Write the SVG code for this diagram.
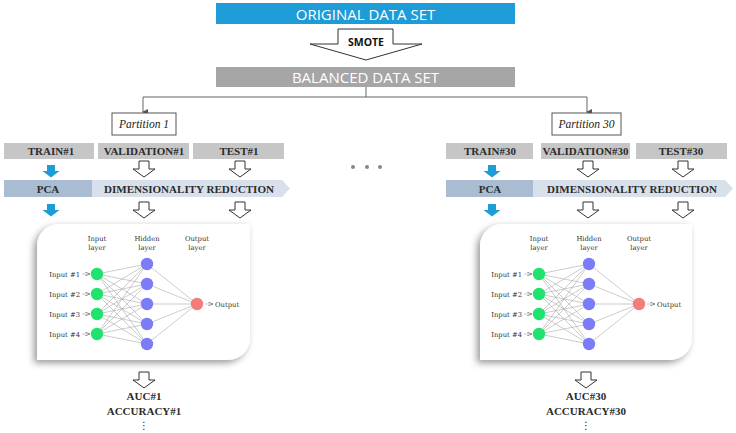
<svg xmlns="http://www.w3.org/2000/svg" width="736" height="433" viewBox="0 0 736 433">
<style>
.bar{font-family:"Open Sans","Liberation Sans",sans-serif;font-size:15px;fill:#fff;text-anchor:middle}
.lbl{font-family:"Liberation Serif","Times New Roman",serif;font-weight:bold;font-size:11px;fill:#2b2b2b;text-anchor:middle}
.part{font-family:"Liberation Serif","Times New Roman",serif;font-style:italic;font-size:11.5px;fill:#222;text-anchor:middle}
.nn{font-family:"DejaVu Serif","Liberation Serif",serif;font-size:6.8px;fill:#333}
.nnc{text-anchor:middle}
.gbox{fill:#C6C6C6}
.oarrow{fill:#fff;stroke:#333;stroke-width:1}
.barrow{fill:#1E9CD7}
.edge{stroke:#aaa;stroke-width:0.6;fill:none}
.in{fill:#1FE36E}
.hid{fill:#7C7CF8}
.out{fill:#F47C7C}
.conn{stroke:#666;stroke-width:1;fill:none}
.panel{fill:#fff}
</style>
<defs>
<path id="oa" d="M-5,0 H5 V8 H11 L0,16 L-11,8 H-5 Z"/>
<path id="ba" d="M-4,0 H4 V6 H8.5 L0,12.5 L-8.5,6 H-4 Z"/>
<marker id="ah" markerWidth="6" markerHeight="6" refX="3" refY="5" orient="auto-start-reverse" markerUnits="userSpaceOnUse"><path d="M0,0 L6,0 L3,6 Z" fill="#555"/></marker>
<marker id="sa" markerWidth="5" markerHeight="4" refX="5" refY="2" orient="auto" markerUnits="userSpaceOnUse"><path d="M0,0 L5,2 L0,4" fill="none" stroke="#555" stroke-width="0.6"/></marker>
<filter id="sh" x="-10%" y="-10%" width="120%" height="125%"><feDropShadow dx="-3" dy="3" stdDeviation="3.5" flood-color="#000" flood-opacity="0.4"/></filter>
</defs>
<rect width="736" height="433" fill="#fff"/>

<g id="original">
<rect x="216" y="3" width="299" height="21" fill="#1E9CD7"/>
<text class="bar" x="365.5" y="19.5">ORIGINAL DATA SET</text>
</g>
<g id="smote">
<path d="M338,29 H393 V44 H422 L366,60 L310,44 H338 Z" fill="#fff" stroke="#333" stroke-width="1"/>
<text x="366" y="45.5" font-family="Open Sans,Liberation Sans,sans-serif" font-weight="bold" font-size="10.5" fill="#111" text-anchor="middle">SMOTE</text>
</g>
<g id="balanced">
<rect x="216" y="67" width="299" height="20" fill="#A6A6A6"/>
<text class="bar" x="365.5" y="83">BALANCED DATA SET</text>
</g>

<g id="connectors">
<path class="conn" d="M366,87 V97"/>
<path class="conn" d="M143,97 H587"/>
<path class="conn" d="M143,97 V112" marker-end="url(#ah)"/>
<path class="conn" d="M587,97 V112" marker-end="url(#ah)"/>
</g>

<g id="partition1">
<rect x="112" y="113" width="64" height="22" fill="#fff" stroke="#555" stroke-width="1"/>
<text class="part" x="144" y="128">Partition 1</text>
</g>
<g id="partition30">
<rect x="552" y="113" width="69" height="22" fill="#fff" stroke="#555" stroke-width="1"/>
<text class="part" x="586.5" y="128">Partition 30</text>
</g>

<g id="train1"><rect class="gbox" x="4" y="143" width="90" height="16"/><text class="lbl" x="51" y="155">TRAIN#1</text></g>
<g id="validation1"><rect class="gbox" x="98" y="143" width="91" height="16"/><text class="lbl" x="144" y="155">VALIDATION#1</text></g>
<g id="test1"><rect class="gbox" x="193" y="143" width="91" height="16"/><text class="lbl" x="239" y="155">TEST#1</text></g>

<g id="train30"><rect class="gbox" x="446" y="143" width="87" height="16"/><text class="lbl" x="490" y="155">TRAIN#30</text></g>
<g id="validation30"><rect class="gbox" x="541" y="143" width="89" height="16"/><text class="lbl" x="585.5" y="155">VALIDATION#30</text></g>
<g id="test30"><rect class="gbox" x="636" y="143" width="91" height="16"/><text class="lbl" x="681" y="155">TEST#30</text></g>

<g id="arrows1">
<use href="#ba" class="barrow" transform="translate(51,165)"/>
<use href="#oa" class="oarrow" transform="translate(144,161)"/>
<use href="#oa" class="oarrow" transform="translate(240,161)"/>
<use href="#ba" class="barrow" transform="translate(51,204)"/>
<use href="#oa" class="oarrow" transform="translate(144,202)"/>
<use href="#oa" class="oarrow" transform="translate(240,202)"/>
<use href="#oa" class="oarrow" transform="translate(144,372)"/>
</g>
<g id="arrows30">
<use href="#ba" class="barrow" transform="translate(492,165)"/>
<use href="#oa" class="oarrow" transform="translate(588,161)"/>
<use href="#oa" class="oarrow" transform="translate(683,161)"/>
<use href="#ba" class="barrow" transform="translate(492,204)"/>
<use href="#oa" class="oarrow" transform="translate(588,202)"/>
<use href="#oa" class="oarrow" transform="translate(683,202)"/>
<use href="#oa" class="oarrow" transform="translate(586,372)"/>
</g>

<g id="band1">
<path d="M92,180 H282 L290,188.5 L282,197 H92 Z" fill="#D8E1EB"/>
<rect x="4" y="180" width="88" height="17" fill="#A9BCD1"/>
<text class="lbl" x="48" y="192.5">PCA</text>
<text class="lbl" x="189" y="192.5" textLength="170" lengthAdjust="spacingAndGlyphs">DIMENSIONALITY REDUCTION</text>
</g>
<g id="band30">
<path d="M533,180 H725 L733,188.5 L725,197 H533 Z" fill="#D8E1EB"/>
<rect x="446" y="180" width="87" height="17" fill="#A9BCD1"/>
<text class="lbl" x="490" y="192.5">PCA</text>
<text class="lbl" x="632" y="192.5" textLength="170" lengthAdjust="spacingAndGlyphs">DIMENSIONALITY REDUCTION</text>
</g>

<g id="dots" fill="#888">
<circle cx="353" cy="167" r="2"/><circle cx="367" cy="167" r="2"/><circle cx="380" cy="167" r="2"/>
</g>

<g id="nn1">
<path class="panel" filter="url(#sh)" d="M59,224 H250 V338 A22,22 0 0 1 228,360 H37 V246 A22,22 0 0 1 59,224 Z"/>
<g class="edge">
<path d="M97,274 L147,264 M97,274 L147,284 M97,274 L147,304 M97,274 L147,324 M97,274 L147,344"/>
<path d="M97,294 L147,264 M97,294 L147,284 M97,294 L147,304 M97,294 L147,324 M97,294 L147,344"/>
<path d="M97,314 L147,264 M97,314 L147,284 M97,314 L147,304 M97,314 L147,324 M97,314 L147,344"/>
<path d="M97,334 L147,264 M97,334 L147,284 M97,334 L147,304 M97,334 L147,324 M97,334 L147,344"/>
<path d="M147,264 L197,304 M147,284 L197,304 M147,304 L197,304 M147,324 L197,304 M147,344 L197,304"/>
</g>
<g class="edge" stroke="#555">
<path d="M82,274 H90" marker-end="url(#sa)"/><path d="M82,294 H90" marker-end="url(#sa)"/>
<path d="M82,314 H90" marker-end="url(#sa)"/><path d="M82,334 H90" marker-end="url(#sa)"/>
<path d="M205,304 H213" marker-end="url(#sa)"/>
</g>
<circle class="in" cx="97" cy="274" r="6.2"/><circle class="in" cx="97" cy="294" r="6.2"/>
<circle class="in" cx="97" cy="314" r="6.2"/><circle class="in" cx="97" cy="334" r="6.2"/>
<circle class="hid" cx="147" cy="264" r="6.2"/><circle class="hid" cx="147" cy="284" r="6.2"/>
<circle class="hid" cx="147" cy="304" r="6.2"/><circle class="hid" cx="147" cy="324" r="6.2"/>
<circle class="hid" cx="147" cy="344" r="6.2"/>
<circle class="out" cx="197" cy="304" r="6.2"/>
<text class="nn nnc" x="97" y="241">Input</text><text class="nn nnc" x="97" y="250">layer</text>
<text class="nn nnc" x="147" y="241">Hidden</text><text class="nn nnc" x="147" y="250">layer</text>
<text class="nn nnc" x="197" y="241">Output</text><text class="nn nnc" x="197" y="250">layer</text>
<text class="nn" x="80" y="276.5" text-anchor="end">Input #1</text>
<text class="nn" x="80" y="296.5" text-anchor="end">Input #2</text>
<text class="nn" x="80" y="316.5" text-anchor="end">Input #3</text>
<text class="nn" x="80" y="336.5" text-anchor="end">Input #4</text>
<text class="nn" x="215" y="306.5">Output</text>
</g>

<g id="nn30">
<path class="panel" filter="url(#sh)" d="M502,224 H692 V338 A22,22 0 0 1 670,360 H480 V246 A22,22 0 0 1 502,224 Z"/>
<g class="edge">
<path d="M539,274 L589,264 M539,274 L589,284 M539,274 L589,304 M539,274 L589,324 M539,274 L589,344"/>
<path d="M539,294 L589,264 M539,294 L589,284 M539,294 L589,304 M539,294 L589,324 M539,294 L589,344"/>
<path d="M539,314 L589,264 M539,314 L589,284 M539,314 L589,304 M539,314 L589,324 M539,314 L589,344"/>
<path d="M539,334 L589,264 M539,334 L589,284 M539,334 L589,304 M539,334 L589,324 M539,334 L589,344"/>
<path d="M589,264 L639,304 M589,284 L639,304 M589,304 L639,304 M589,324 L639,304 M589,344 L639,304"/>
</g>
<g class="edge" stroke="#555">
<path d="M524,274 H532" marker-end="url(#sa)"/><path d="M524,294 H532" marker-end="url(#sa)"/>
<path d="M524,314 H532" marker-end="url(#sa)"/><path d="M524,334 H532" marker-end="url(#sa)"/>
<path d="M647,304 H655" marker-end="url(#sa)"/>
</g>
<circle class="in" cx="539" cy="274" r="6.2"/><circle class="in" cx="539" cy="294" r="6.2"/>
<circle class="in" cx="539" cy="314" r="6.2"/><circle class="in" cx="539" cy="334" r="6.2"/>
<circle class="hid" cx="589" cy="264" r="6.2"/><circle class="hid" cx="589" cy="284" r="6.2"/>
<circle class="hid" cx="589" cy="304" r="6.2"/><circle class="hid" cx="589" cy="324" r="6.2"/>
<circle class="hid" cx="589" cy="344" r="6.2"/>
<circle class="out" cx="639" cy="304" r="6.2"/>
<text class="nn nnc" x="539" y="241">Input</text><text class="nn nnc" x="539" y="250">layer</text>
<text class="nn nnc" x="589" y="241">Hidden</text><text class="nn nnc" x="589" y="250">layer</text>
<text class="nn nnc" x="639" y="241">Output</text><text class="nn nnc" x="639" y="250">layer</text>
<text class="nn" x="522" y="276.5" text-anchor="end">Input #1</text>
<text class="nn" x="522" y="296.5" text-anchor="end">Input #2</text>
<text class="nn" x="522" y="316.5" text-anchor="end">Input #3</text>
<text class="nn" x="522" y="336.5" text-anchor="end">Input #4</text>
<text class="nn" x="657" y="306.5">Output</text>
</g>

<g id="result1">
<text class="lbl" x="144" y="400">AUC#1</text>
<text class="lbl" x="144" y="415">ACCURACY#1</text>
<text x="144" y="429" font-family="DejaVu Sans,sans-serif" font-size="10" fill="#222" text-anchor="middle">⋮</text>
</g>
<g id="result30">
<text class="lbl" x="586" y="400">AUC#30</text>
<text class="lbl" x="586" y="415">ACCURACY#30</text>
<text x="586" y="429" font-family="DejaVu Sans,sans-serif" font-size="10" fill="#222" text-anchor="middle">⋮</text>
</g>
</svg>
